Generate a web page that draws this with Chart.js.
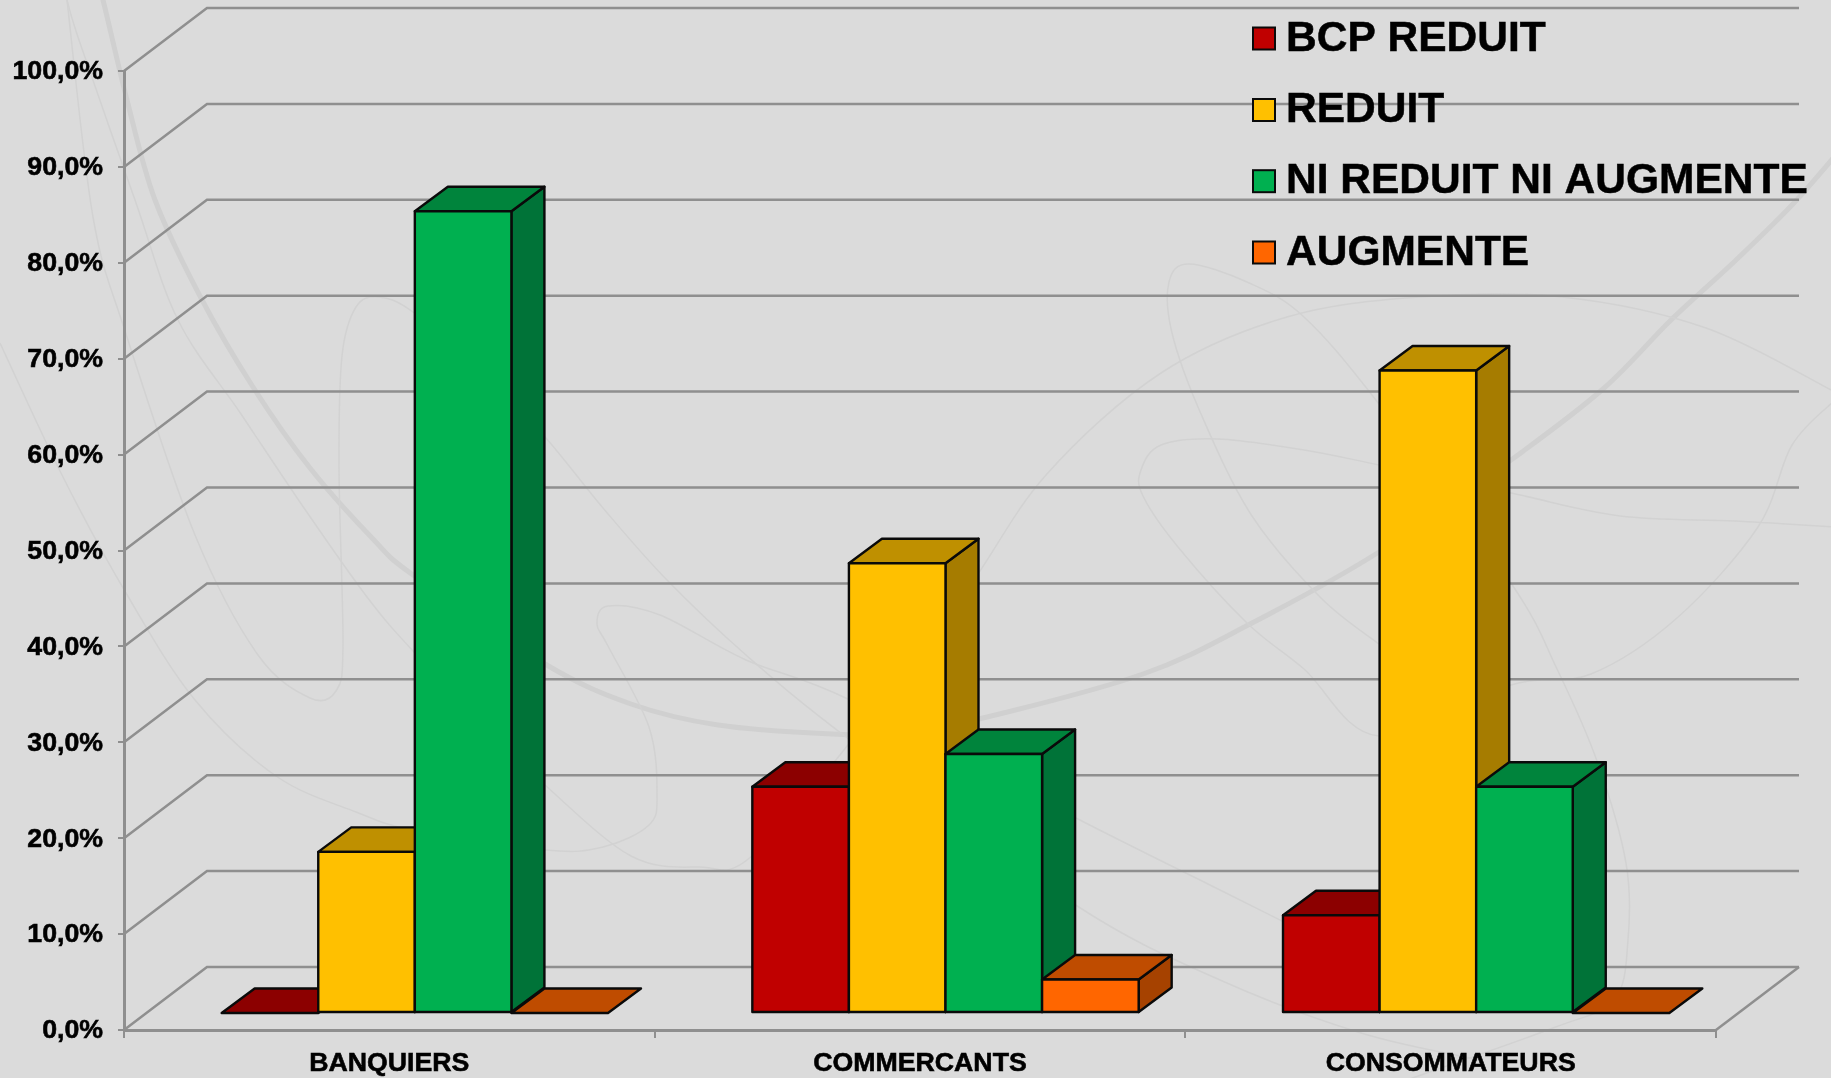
<!DOCTYPE html>
<html>
<head>
<meta charset="utf-8">
<title>BCP</title>
<script src="https://cdn.jsdelivr.net/npm/chart.js@4/dist/chart.umd.min.js"></script>
<style>
  html, body { margin: 0; padding: 0; background: #dbdbdb; overflow: hidden; }
  #wrap { position: relative; width: 1831px; height: 1078px; }
  #swirls { position: absolute; left: 0; top: 0; width: 1831px; height: 1078px; }
  #chart { position: absolute; left: 0; top: 0; }
</style>
</head>
<body>
<div id="wrap">
  <svg id="swirls" viewBox="0 0 1831 1078" fill="none"></svg>
  <canvas id="chart" width="1831" height="1078"></canvas>
</div>
<script>
const categories = ['BANQUIERS', 'COMMERCANTS', 'CONSOMMATEURS'];
const seriesNames = ['BCP REDUIT', 'REDUIT', 'NI REDUIT NI AUGMENTE', 'AUGMENTE'];
const bcpReduit = [0, 23.6, 10.2];
const reduit = [16.8, 46.9, 67.0];
const niReduitNiAugmente = [83.6, 27.0, 23.6];
const augmente = [0, 3.5, 0];

const frontColors = ['#c00000', '#ffc000', '#00b050', '#ff6600'];
const topColors = ['#8c0000', '#bf9000', '#00843c', '#bf4c00'];
const sideColors = ['#7c0000', '#a67c00', '#007338', '#a64200'];

const gridColor = '#8f8f8f';
const fontFamily = '"Liberation Sans", Arial, sans-serif';

// le mur du fond est decale de la face avant de l'axe
const wallDx = 83, wallDy = -63;
// position et profondeur des barres dans la perspective
const barDx = 25.5, barDy = -17;
const depthDx = 33, depthDy = -24.5;

// fond de la diapositive : courbes decoratives, sans rapport avec les donnees
const thickSwirl = [[96, -20], [103, 0], [127, 100], [155, 200], [201, 298], [253, 387], [310, 468], [373, 539], [413, 575], [545, 664], [631, 704], [718, 725], [832, 734], [900, 733], [983, 718], [1143, 674], [1252, 623], [1379, 552], [1511, 460], [1603, 389], [1671, 320], [1735, 261], [1792, 205], [1840, 150]];
const thinSwirls = [
  [[67, 0], [80, 43], [135, 200], [178, 320], [241, 414], [304, 508], [367, 597], [413, 651], [490, 730], [545, 785], [631, 856], [700, 867], [752, 856], [860, 730], [965, 593], [1046, 475], [1161, 373], [1287, 317], [1419, 297], [1562, 297], [1706, 328], [1835, 392]],
  [[67, 0], [93, 217], [126, 334], [195, 535], [258, 655], [310, 698], [336, 691], [343, 646], [339, 468], [342, 356], [356, 307], [379, 297], [413, 312], [480, 370], [545, 437], [603, 508], [666, 579], [746, 655], [850, 740], [1074, 904], [1220, 980], [1361, 1033], [1480, 1060]],
  [[0, 343], [63, 477], [126, 593], [195, 700], [276, 776], [356, 812], [413, 830], [545, 850], [603, 847], [649, 825], [657, 794], [649, 727], [608, 646], [597, 624], [608, 606], [660, 615], [746, 660], [850, 700], [1074, 817], [1220, 890], [1300, 930]],
  [[1379, 644], [1321, 598], [1252, 516], [1201, 414], [1172, 333], [1169, 282], [1189, 264], [1247, 282], [1304, 317], [1379, 404], [1511, 583], [1557, 669], [1597, 761], [1626, 863], [1628, 940], [1614, 1000], [1553, 1028], [1401, 1082]],
  [[1835, 400], [1792, 445], [1758, 527], [1677, 618], [1591, 674], [1511, 685], [1379, 736], [1304, 669], [1247, 623], [1178, 547], [1143, 496], [1141, 470], [1161, 445], [1218, 439], [1304, 450], [1379, 465], [1511, 493], [1620, 516], [1735, 521], [1835, 527]]
];

function smoothPath(pts) {
  let d = 'M' + pts[0][0] + ' ' + pts[0][1];
  for (let i = 0; i < pts.length - 1; i++) {
    const p0 = pts[Math.max(i - 1, 0)], p1 = pts[i], p2 = pts[i + 1], p3 = pts[Math.min(i + 2, pts.length - 1)];
    d += 'C' + (p1[0] + (p2[0] - p0[0]) / 6) + ' ' + (p1[1] + (p2[1] - p0[1]) / 6) + ' ' +
      (p2[0] - (p3[0] - p1[0]) / 6) + ' ' + (p2[1] - (p3[1] - p1[1]) / 6) + ' ' + p2[0] + ' ' + p2[1];
  }
  return d;
}

const svg = document.getElementById('swirls');
function addSwirl(pts, color, width) {
  const path = document.createElementNS('http://www.w3.org/2000/svg', 'path');
  path.setAttribute('d', smoothPath(pts));
  path.setAttribute('stroke', color);
  path.setAttribute('stroke-width', width);
  svg.appendChild(path);
}
addSwirl(thickSwirl, '#d0d0d0', 5);
thinSwirls.forEach(pts => addSwirl(pts, '#d2d2d2', 1.5));

function face(ctx, pts, fill) {
  ctx.beginPath();
  pts.forEach((p, i) => i ? ctx.lineTo(p[0], p[1]) : ctx.moveTo(p[0], p[1]));
  ctx.closePath();
  ctx.fillStyle = fill;
  ctx.fill();
  ctx.stroke();
}

const wallsAndBars = {
  id: 'wallsAndBars',
  beforeDatasetsDraw(chart) {
    const { ctx, chartArea, scales } = chart;
    const { left, right, bottom } = chartArea;

    ctx.save();
    ctx.strokeStyle = gridColor;
    ctx.lineWidth = 2.5;
    scales.y.ticks.forEach(t => {
      const y = scales.y.getPixelForValue(t.value);
      ctx.beginPath();
      ctx.moveTo(left, y);
      ctx.lineTo(left + wallDx, y + wallDy);
      ctx.lineTo(right + wallDx, y + wallDy);
      ctx.stroke();
    });
    ctx.beginPath();
    ctx.moveTo(right, bottom);
    ctx.lineTo(right + wallDx, bottom + wallDy);
    ctx.stroke();
    ctx.restore();

    // barres dessinees de gauche a droite, comme un histogramme 3D
    ctx.save();
    ctx.strokeStyle = '#0a0a0a';
    ctx.lineWidth = 2.4;
    ctx.lineJoin = 'round';
    chart.data.datasets.forEach((ds, i) => {
      chart.getDatasetMeta(i).data.forEach(bar => {
        const x0 = bar.x - bar.width / 2 + barDx;
        const x1 = bar.x + bar.width / 2 + barDx;
        const yTop = bar.y + barDy;
        const yBase = bar.base + barDy;
        if (yBase - yTop > 0.5) {
          face(ctx, [[x1, yTop], [x1 + depthDx, yTop + depthDy], [x1 + depthDx, yBase + depthDy], [x1, yBase]], sideColors[i]);
        }
        face(ctx, [[x0, yTop], [x0 + depthDx, yTop + depthDy], [x1 + depthDx, yTop + depthDy], [x1, yTop]], topColors[i]);
        if (yBase - yTop > 0.5) {
          face(ctx, [[x0, yTop], [x1, yTop], [x1, yBase], [x0, yBase]], frontColors[i]);
        }
      });
    });
    ctx.restore();
    return false;
  },
  afterDraw(chart) {
    const { ctx } = chart;
    const rowY = [36, 107.5, 178.7, 250];
    ctx.save();
    ctx.font = 'bold 42.5px ' + fontFamily;
    ctx.textBaseline = 'middle';
    chart.data.datasets.forEach((ds, i) => {
      ctx.fillStyle = frontColors[i];
      ctx.strokeStyle = '#0a0a0a';
      ctx.lineWidth = 2;
      ctx.fillRect(1253, rowY[i] - 8.5, 22, 22);
      ctx.strokeRect(1253, rowY[i] - 8.5, 22, 22);
      ctx.fillStyle = '#000';
      ctx.strokeStyle = '#000';
      ctx.lineWidth = 0.5;
      ctx.fillText(ds.label, 1286, rowY[i] + 3);
      ctx.strokeText(ds.label, 1286, rowY[i] + 3);
    });
    ctx.restore();
  }
};

new Chart(document.getElementById('chart'), {
  type: 'bar',
  data: {
    labels: categories,
    datasets: [bcpReduit, reduit, niReduitNiAugmente, augmente].map((values, i) => ({
      label: seriesNames[i],
      data: values,
      backgroundColor: frontColors[i],
      categoryPercentage: 0.728,
      barPercentage: 1
    }))
  },
  plugins: [wallsAndBars],
  options: {
    responsive: false,
    animation: false,
    layout: { padding: { top: 71, right: 115, left: 0, bottom: 0 } },
    plugins: { legend: { display: false }, tooltip: { enabled: false } },
    scales: {
      x: {
        afterFit: scale => { scale.height = 48; },
        grid: { drawOnChartArea: false, color: gridColor, tickLength: 8, lineWidth: 2 },
        border: { color: gridColor, width: 3 },
        ticks: {
          color: '#000',
          padding: 10,
          textStrokeColor: '#000',
          textStrokeWidth: 0.6,
          font: { family: fontFamily, weight: 'bold', size: 26.7 }
        }
      },
      y: {
        min: 0,
        max: 100,
        afterFit: scale => { scale.width = 124; },
        grid: { drawOnChartArea: false, color: gridColor, tickLength: 6, lineWidth: 2 },
        border: { color: gridColor, width: 3 },
        ticks: {
          stepSize: 10,
          color: '#000',
          padding: 15,
          labelOffset: 1,
          textStrokeColor: '#000',
          textStrokeWidth: 0.6,
          font: { family: fontFamily, weight: 'bold', size: 26.7 },
          callback: v => v.toFixed(1).replace('.', ',') + '%'
        }
      }
    }
  }
});
</script>
</body>
</html>
